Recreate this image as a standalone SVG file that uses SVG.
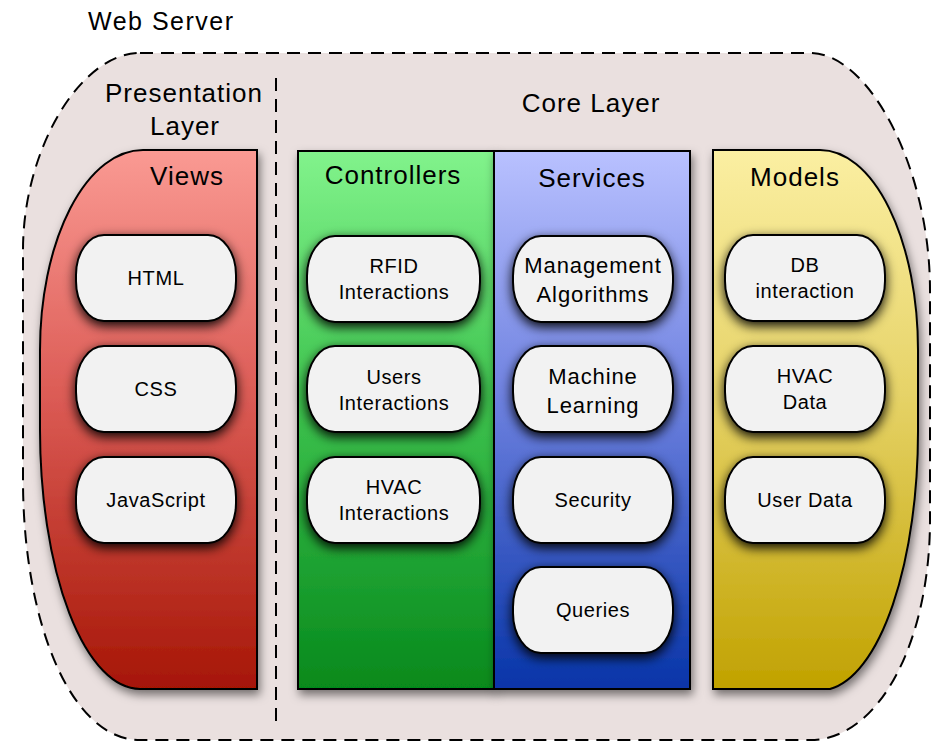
<svg xmlns="http://www.w3.org/2000/svg" width="932" height="742" viewBox="0 0 932 742">
  <defs>
    <linearGradient id="gViews" x1="0" y1="0" x2="0" y2="1">
      <stop offset="0" stop-color="#FA9A93"/>
      <stop offset="0.45" stop-color="#DC5C56"/>
      <stop offset="1" stop-color="#A61606"/>
    </linearGradient>
    <linearGradient id="gCtrl" x1="0" y1="0" x2="0" y2="1">
      <stop offset="0" stop-color="#82F38C"/>
      <stop offset="0.45" stop-color="#3FC44F"/>
      <stop offset="1" stop-color="#06891C"/>
    </linearGradient>
    <linearGradient id="gServ" x1="0" y1="0" x2="0" y2="1">
      <stop offset="0" stop-color="#B9C1FF"/>
      <stop offset="0.45" stop-color="#6F82E0"/>
      <stop offset="1" stop-color="#0734A8"/>
    </linearGradient>
    <linearGradient id="gModel" x1="0" y1="0" x2="0" y2="1">
      <stop offset="0" stop-color="#FBEFA2"/>
      <stop offset="0.45" stop-color="#E6D368"/>
      <stop offset="1" stop-color="#C1A200"/>
    </linearGradient>
    <filter id="panelShadow" x="-10%" y="-10%" width="125%" height="125%">
      <feDropShadow dx="2" dy="5" stdDeviation="5" flood-color="#000" flood-opacity="0.5"/>
    </filter>
    <filter id="pillShadow" x="-25%" y="-25%" width="150%" height="160%">
      <feDropShadow dx="0" dy="4" stdDeviation="6" flood-color="#000" flood-opacity="0.95"/>
    </filter>
  </defs>
  <style>
    text { font-family: "Liberation Sans", Arial, sans-serif; fill: #000; }
    .title { font-size: 25px; letter-spacing: 1.5px; }
    .head { font-size: 26px; letter-spacing: 1px; text-anchor: middle; }
    .pt { font-size: 20px; letter-spacing: 0.6px; text-anchor: middle; }
    .pl { font-size: 22px; letter-spacing: 0.9px; text-anchor: middle; }
    .panel { stroke: #000; stroke-width: 2; filter: url(#panelShadow); }
    .pill { fill: #F2F2F2; stroke: #000; stroke-width: 2; filter: url(#pillShadow); }
    .dash { fill: none; stroke: #000; stroke-width: 2; stroke-dasharray: 13 8; }
  </style>

  <rect width="932" height="742" fill="#FFFFFF"/>

  <!-- Web server boundary -->
  <g id="web-server">
    <path d="M140,53 H810 C870,53 930,170 930,290 V520 C930,640 880,740 810,740 H140 C70,740 23,620 23,480 V250 C23,150 80,53 140,53 Z" fill="#EAE0DF"/>
    <path class="dash" d="M140,53 H810 C870,53 930,170 930,290 V520 C930,640 880,740 810,740 H140 C70,740 23,620 23,480 V250 C23,150 80,53 140,53 Z"/>
    <text class="title" x="88" y="30">Web Server</text>
  </g>

  <!-- Layer separator and layer titles -->
  <g id="layers">
    <line class="dash" x1="276" y1="78" x2="276" y2="722" stroke-dasharray="10 7"/>
    <text class="head" x="184" y="102" font-size="25">Presentation</text>
    <text class="head" x="185" y="135" font-size="25">Layer</text>
    <text class="head" x="591" y="112">Core Layer</text>
  </g>

  <!-- Views -->
  <g id="views">
    <path class="panel" fill="url(#gViews)" d="M143,150 H257 V689 H140 A100,259 0 0 1 40,430 V350 A103,200 0 0 1 143,150 Z"/>
    <text class="head" x="187" y="185">Views</text>
    <g id="html"><rect class="pill" x="76" y="235" width="160" height="86" rx="28" ry="40"/><text class="pt" x="156" y="285">HTML</text></g>
    <g id="css"><rect class="pill" x="76" y="346" width="160" height="86" rx="28" ry="40"/><text class="pt" x="156" y="396">CSS</text></g>
    <g id="javascript"><rect class="pill" x="76" y="457" width="160" height="86" rx="28" ry="40"/><text class="pt" x="156" y="507">JavaScript</text></g>
  </g>

  <!-- Controllers -->
  <g id="controllers">
    <rect class="panel" fill="url(#gCtrl)" x="298" y="151" width="196" height="538"/>
    <text class="head" x="393" y="184">Controllers</text>
    <g id="rfid-interactions"><rect class="pill" x="307" y="236" width="173" height="86" rx="28" ry="40"/><text class="pt" x="394" y="273">RFID</text><text class="pt" x="394" y="299">Interactions</text></g>
    <g id="users-interactions"><rect class="pill" x="307" y="346" width="173" height="86" rx="28" ry="40"/><text class="pt" x="394" y="384">Users</text><text class="pt" x="394" y="410">Interactions</text></g>
    <g id="hvac-interactions"><rect class="pill" x="307" y="457" width="173" height="86" rx="28" ry="40"/><text class="pt" x="394" y="494">HVAC</text><text class="pt" x="394" y="520">Interactions</text></g>
  </g>

  <!-- Services -->
  <g id="services">
    <rect class="panel" fill="url(#gServ)" x="494" y="151" width="196" height="538"/>
    <text class="head" x="592" y="187">Services</text>
    <g id="management-algorithms"><rect class="pill" x="513" y="236" width="160" height="86" rx="28" ry="40"/><text class="pl" x="593" y="273">Management</text><text class="pl" x="593" y="302">Algorithms</text></g>
    <g id="machine-learning"><rect class="pill" x="513" y="346" width="160" height="86" rx="28" ry="40"/><text class="pl" x="593" y="384">Machine</text><text class="pl" x="593" y="413">Learning</text></g>
    <g id="security"><rect class="pill" x="513" y="457" width="160" height="86" rx="28" ry="40"/><text class="pt" x="593" y="507">Security</text></g>
    <g id="queries"><rect class="pill" x="513" y="567" width="160" height="86" rx="28" ry="40"/><text class="pt" x="593" y="617">Queries</text></g>
  </g>

  <!-- Models -->
  <g id="models">
    <path class="panel" fill="url(#gModel)" d="M713,150 H820 A98,200 0 0 1 918,350 V430 A98,259 0 0 1 830,689 H713 Z"/>
    <text class="head" x="795" y="186">Models</text>
    <g id="db-interaction"><rect class="pill" x="725" y="235" width="160" height="86" rx="28" ry="40"/><text class="pt" x="805" y="272">DB</text><text class="pt" x="805" y="298">interaction</text></g>
    <g id="hvac-data"><rect class="pill" x="725" y="346" width="160" height="86" rx="28" ry="40"/><text class="pt" x="805" y="383">HVAC</text><text class="pt" x="805" y="409">Data</text></g>
    <g id="user-data"><rect class="pill" x="725" y="457" width="160" height="86" rx="28" ry="40"/><text class="pt" x="805" y="507">User Data</text></g>
  </g>

  <!-- no connectors are drawn between nodes -->
  <g id="connectors"/>
</svg>
